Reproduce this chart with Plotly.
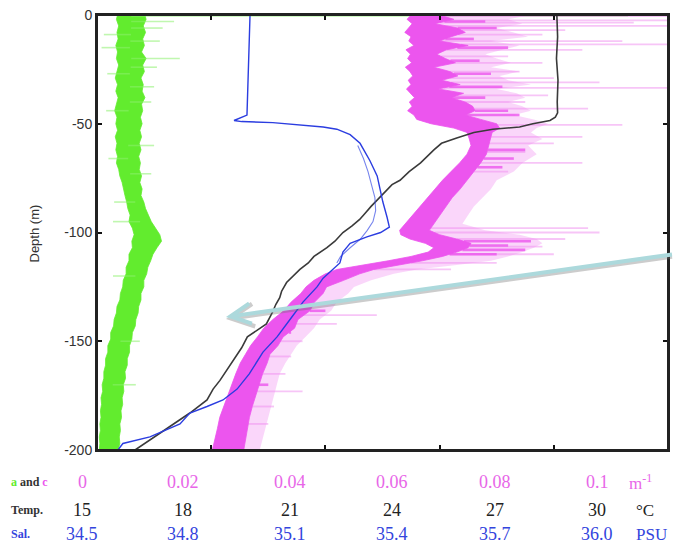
import numpy as np
import plotly.graph_objects as go

# ---------------- data ----------------
# absorption a (green) : noisy band, left / right envelopes (m^-1)
a_depth = [0, -2, -5, -8, -11, -14, -17, -20, -23, -26,
           -29, -32, -35, -38, -41, -44, -47, -50, -53, -56,
           -59, -62, -65, -68, -71, -74, -77, -80, -83, -86,
           -89, -92, -95, -98, -101, -104, -107, -110, -113, -116,
           -119, -122, -125, -128, -131, -134, -137, -140, -143, -146,
           -149, -152, -155, -158, -161, -164, -167, -170, -173, -176,
           -179, -182, -185, -188, -191, -194, -197, -200]
a_left = [0.0036, 0.0034, 0.0038, 0.0035, 0.0037, 0.0033, 0.0036, 0.0034, 0.0038, 0.0035,
          0.0032, 0.0036, 0.0033, 0.0037, 0.0034, 0.0031, 0.0035, 0.0033, 0.0036, 0.0032,
          0.0035, 0.0033, 0.0036, 0.0034, 0.0038, 0.0040, 0.0044, 0.0046, 0.0049, 0.0052,
          0.0054, 0.0058, 0.0056, 0.0062, 0.0065, 0.0061, 0.0062, 0.0056, 0.0056, 0.0051,
          0.0051, 0.0046, 0.0045, 0.0041, 0.0040, 0.0035, 0.0034, 0.0030, 0.0029, 0.0024,
          0.0024, 0.0019, 0.0019, 0.0015, 0.0015, 0.0012, 0.0012, 0.0009, 0.0010, 0.0007,
          0.0008, 0.0006, 0.0007, 0.0005, 0.0006, 0.0004, 0.0005, 0.0004]
a_right = [0.0084, 0.0086, 0.0081, 0.0085, 0.0080, 0.0083, 0.0078, 0.0086, 0.0080, 0.0083,
           0.0077, 0.0081, 0.0079, 0.0084, 0.0078, 0.0080, 0.0076, 0.0079, 0.0075, 0.0078,
           0.0074, 0.0077, 0.0073, 0.0076, 0.0074, 0.0078, 0.0075, 0.0079, 0.0077, 0.0082,
           0.0085, 0.0090, 0.0095, 0.0102, 0.0110, 0.0113, 0.0105, 0.0098, 0.0094, 0.0089,
           0.0087, 0.0082, 0.0082, 0.0077, 0.0077, 0.0073, 0.0072, 0.0068, 0.0067, 0.0062,
           0.0061, 0.0057, 0.0057, 0.0053, 0.0053, 0.0049, 0.0050, 0.0046, 0.0047, 0.0044,
           0.0045, 0.0042, 0.0043, 0.0040, 0.0041, 0.0039, 0.0040, 0.0037]
a_spike_depth = [-0.4, -3, -6, -9, -12, -15, -20, -24, -27, -33, -40, -44, -60, -66, -73, -86, -95, -120, -150, -170]
a_spike_val = [0.093, 0.0135, 0.0115, 0.0012, 0.0110, 0.0008, 0.0145, 0.0105, 0.0018, 0.0100,
               0.0095, 0.0016, 0.0100, 0.0020, 0.0095, 0.0030, 0.0028, 0.0028, 0.0075, 0.0068]

# attenuation c (magenta) : dense band, light fringe, clumps and spikes (m^-1)
c_depth = [0, -2, -4, -6, -8, -10, -12, -14, -16, -18,
           -20, -22, -24, -26, -28, -30, -32, -34, -36, -38,
           -40, -42, -44, -46, -48, -50, -52, -54, -57, -60,
           -64, -68, -72, -76, -80, -84, -88, -92, -96, -99,
           -101, -103, -105, -107, -109, -111, -113, -115, -117, -119,
           -122, -125, -128, -132, -136, -140, -144, -148, -152, -156,
           -160, -165, -170, -175, -180, -185, -190, -195, -200]
c_left = [0.0550, 0.0543, 0.0552, 0.0545, 0.0539, 0.0550, 0.0546, 0.0555, 0.0541, 0.0549,
          0.0544, 0.0551, 0.0540, 0.0548, 0.0553, 0.0545, 0.0550, 0.0542, 0.0549, 0.0556,
          0.0547, 0.0552, 0.0544, 0.0555, 0.0560, 0.0585, 0.0625, 0.0648, 0.0652, 0.0655,
          0.0648, 0.0635, 0.0620, 0.0605, 0.0592, 0.0579, 0.0566, 0.0552, 0.0540, 0.0530,
          0.0532, 0.0548, 0.0575, 0.0590, 0.0580, 0.0550, 0.0510, 0.0462, 0.0420, 0.0400,
          0.0380, 0.0366, 0.0357, 0.0340, 0.0327, 0.0308, 0.0292, 0.0281, 0.0269, 0.0260,
          0.0251, 0.0243, 0.0236, 0.0230, 0.0222, 0.0215, 0.0211, 0.0206, 0.0202]
c_right = [0.0600, 0.0625, 0.0592, 0.0632, 0.0645, 0.0620, 0.0600, 0.0650, 0.0612, 0.0595,
           0.0610, 0.0628, 0.0590, 0.0618, 0.0632, 0.0604, 0.0636, 0.0598, 0.0642, 0.0620,
           0.0645, 0.0658, 0.0662, 0.0645, 0.0672, 0.0700, 0.0705, 0.0692, 0.0688, 0.0686,
           0.0682, 0.0672, 0.0660, 0.0648, 0.0636, 0.0622, 0.0612, 0.0600, 0.0590, 0.0582,
           0.0600, 0.0630, 0.0655, 0.0650, 0.0630, 0.0605, 0.0570, 0.0530, 0.0485, 0.0460,
           0.0432, 0.0402, 0.0396, 0.0381, 0.0373, 0.0352, 0.0346, 0.0326, 0.0317, 0.0303,
           0.0298, 0.0290, 0.0283, 0.0278, 0.0272, 0.0267, 0.0264, 0.0260, 0.0257]
c_light = [0.0760, 0.0720, 0.0745, 0.0700, 0.0730, 0.0755, 0.0690, 0.0740, 0.0710, 0.0680,
           0.0700, 0.0725, 0.0690, 0.0740, 0.0705, 0.0720, 0.0760, 0.0700, 0.0735, 0.0750,
           0.0720, 0.0745, 0.0760, 0.0730, 0.0765, 0.0790, 0.0770, 0.0760, 0.0780, 0.0755,
           0.0770, 0.0745, 0.0730, 0.0700, 0.0690, 0.0675, 0.0660, 0.0650, 0.0640, 0.0680,
           0.0740, 0.0770, 0.0780, 0.0765, 0.0745, 0.0720, 0.0690, 0.0630, 0.0560, 0.0520,
           0.0480, 0.0450, 0.0440, 0.0420, 0.0410, 0.0390, 0.0380, 0.0365, 0.0350, 0.0340,
           0.0330, 0.0320, 0.0315, 0.0310, 0.0305, 0.0300, 0.0295, 0.0290, 0.0285]
c_clump_depth = [-3, -6, -11, -15, -21, -27, -33, -38, -44, -46,
                 -62, -66, -70, -104, -106, -108, -110, -136, -146, -170]
c_clump_val = [0.068, 0.070, 0.066, 0.072, 0.067, 0.069, 0.071, 0.068, 0.072, 0.074,
               0.075, 0.073, 0.071, 0.076, 0.072, 0.075, 0.070, 0.040, 0.034, 0.030]
c_spike_depth = [-0.5, -2.5, -3.5, -5, -7, -9, -12, -13.5, -16, -19,
                 -22, -26, -29, -31, -33.5, -37, -40, -43, -50.5, -56,
                 -59, -63, -68, -72, -98, -100, -103, -106.5, -110, -114,
                 -117, -138, -142, -150, -157, -165, -173, -180, -188]
c_spike_val = [0.100, 0.100, 0.094, 0.100, 0.082, 0.078, 0.092, 0.100, 0.085, 0.072,
               0.078, 0.074, 0.080, 0.088, 0.100, 0.079, 0.075, 0.086, 0.092, 0.085,
               0.080, 0.075, 0.085, 0.072, 0.086, 0.088, 0.082, 0.078, 0.080, 0.070,
               0.062, 0.049, 0.042, 0.036, 0.034, 0.033, 0.036, 0.031, 0.030]

# temperature (deg C)
temp_depth = [0, -10, -20, -30, -40, -45, -47, -48.5, -50, -51.5,
              -52.5, -54, -56.5, -59, -62, -65, -68, -72, -76, -78,
              -81, -84, -88, -91, -94, -97, -100, -104, -107, -111,
              -114, -117, -120, -123, -127, -130, -133, -137, -142, -145,
              -148, -153, -159, -163, -168, -172, -177, -183, -187, -190,
              -195, -200]
temp_val = [27.08, 27.10, 27.07, 27.11, 27.09, 27.10, 27.04, 26.90, 26.45, 26.10,
            25.40, 24.90, 24.45, 24.05, 23.85, 23.68, 23.50, 23.20, 22.96, 22.75,
            22.58, 22.43, 22.20, 22.05, 21.90, 21.70, 21.46, 21.25, 21.04, 20.70,
            20.55, 20.33, 20.15, 19.98, 19.85, 19.80, 19.70, 19.60, 19.45, 19.20,
            18.95, 18.80, 18.57, 18.40, 18.23, 18.05, 17.89, 17.44, 17.10, 16.84,
            16.40, 16.00]

# salinity (PSU), downcast and a short second branch
sal_depth = [0, -10, -20, -30, -40, -46, -48.5, -49, -49.5, -50.2,
             -50.8, -51.5, -52.5, -55, -59, -67, -74, -80, -86, -93,
             -97.5, -100, -102, -105, -109, -114, -118, -121, -125, -130,
             -132, -140, -148, -155, -165, -172, -177, -180, -183, -188,
             -194, -197, -200]
sal_val = [34.902, 34.900, 34.899, 34.897, 34.895, 34.894, 34.860, 34.880, 34.962, 35.007,
           35.052, 35.094, 35.130, 35.165, 35.191, 35.217, 35.236, 35.243, 35.251, 35.262,
           35.268, 35.245, 35.209, 35.165, 35.146, 35.138, 35.112, 35.094, 35.078, 35.050,
           35.041, 35.007, 34.973, 34.936, 34.900, 34.868, 34.831, 34.789, 34.744, 34.718,
           34.639, 34.568, 34.555]
sal2_depth = [-60, -66, -72, -78, -84, -90, -95, -99, -103, -107, -111, -114]
sal2_val = [35.185, 35.200, 35.212, 35.222, 35.230, 35.232, 35.225, 35.210, 35.192, 35.165, 35.140, 35.130]

# bottom label table
abs_ticks = ["0", "0.02", "0.04", "0.06", "0.08", "0.1"]
temp_ticks = ["15", "18", "21", "24", "27", "30"]
sal_ticks = ["34.5", "34.8", "35.1", "35.4", "35.7", "36.0"]
y_ticks = [0, -50, -100, -150, -200]

# ---------------- layout constants ----------------
W, H = 675, 547
L, R, T, B = 97, 7, 15, 97
PW, PH = W - L - R, H - T - B
col_px = [82, 183, 290, 392, 495, 597]
row_py = [482, 510, 534]

def px2paper(px):
    return (px - L) / PW

def py2paper(py):
    return (H - B - py) / PH

GREEN = "#62ec2e"
GREEN_L = "rgba(140,240,110,0.55)"
MAG = "#ec55ee"
MAG_L = "rgba(246,180,246,0.55)"
MAG_S = "rgba(240,140,240,0.5)"
MAG_C = "rgba(236,85,238,0.8)"
BLUE = "#2b3de0"
BLACK = "#3a3a3a"

fig = go.Figure()

# green band + spikes
fig.add_trace(go.Scatter(x=a_left + a_right[::-1], y=a_depth + a_depth[::-1],
                         fill="toself", fillcolor=GREEN, mode="lines",
                         line=dict(width=0.8, color=GREEN), hoverinfo="skip"))
ad = np.array(a_depth)[::-1]
acen = (np.array(a_left) + np.array(a_right))[::-1] / 2
sx, sy = [], []
for d, v in zip(a_spike_depth, a_spike_val):
    sx += [float(np.interp(d, ad, acen)), v, None]
    sy += [d, d, None]
fig.add_trace(go.Scatter(x=sx, y=sy, mode="lines", line=dict(color=GREEN_L, width=1.6),
                         hoverinfo="skip"))

# magenta light fringe, spikes, dense band, clumps
fig.add_trace(go.Scatter(x=c_left + c_light[::-1], y=c_depth + c_depth[::-1],
                         fill="toself", fillcolor=MAG_L, mode="lines",
                         line=dict(width=0), hoverinfo="skip"))
cd = np.array(c_depth)[::-1]
cr = np.array(c_right)[::-1]
sx, sy = [], []
for d, v in zip(c_spike_depth, c_spike_val):
    sx += [float(np.interp(d, cd, cr)), v, None]
    sy += [d, d, None]
fig.add_trace(go.Scatter(x=sx, y=sy, mode="lines", line=dict(color=MAG_S, width=1.8),
                         hoverinfo="skip"))
fig.add_trace(go.Scatter(x=c_left + c_right[::-1], y=c_depth + c_depth[::-1],
                         fill="toself", fillcolor=MAG, mode="lines",
                         line=dict(width=0.8, color=MAG), hoverinfo="skip"))
sx, sy = [], []
for d, v in zip(c_clump_depth, c_clump_val):
    sx += [float(np.interp(d, cd, cr)), v, None]
    sy += [d, d, None]
fig.add_trace(go.Scatter(x=sx, y=sy, mode="lines", line=dict(color=MAG_C, width=2.6),
                         hoverinfo="skip"))

# salinity and temperature
fig.add_trace(go.Scatter(x=sal2_val, y=sal2_depth, xaxis="x3", mode="lines",
                         line=dict(color="rgba(60,80,230,0.7)", width=1.1), hoverinfo="skip"))
fig.add_trace(go.Scatter(x=sal_val, y=sal_depth, xaxis="x3", mode="lines",
                         line=dict(color=BLUE, width=1.4), hoverinfo="skip"))
fig.add_trace(go.Scatter(x=temp_val, y=temp_depth, xaxis="x2", mode="lines",
                         line=dict(color=BLACK, width=1.6), hoverinfo="skip"))

axis_common = dict(showline=True, linecolor="#222", linewidth=2, mirror="ticks",
                   ticks="inside", ticklen=5, tickwidth=2, tickcolor="#111",
                   showgrid=False, zeroline=False, layer="above traces")
fig.update_layout(
    width=W, height=H, margin=dict(l=L, r=R, t=T, b=B, autoexpand=False),
    paper_bgcolor="white", plot_bgcolor="white", showlegend=False,
    xaxis=dict(range=[0, 0.1], tickvals=[0, 0.02, 0.04, 0.06, 0.08, 0.1],
               showticklabels=False, **axis_common),
    xaxis2=dict(range=[15, 30], overlaying="x", anchor="y", visible=False),
    xaxis3=dict(range=[34.5, 36.0], overlaying="x", anchor="y", visible=False),
    yaxis=dict(range=[-200, 0], tickvals=y_ticks, ticktext=[str(v) for v in y_ticks],
               tickfont=dict(family="Liberation Sans", size=14, color="#333"),
               **axis_common),
    shapes=[dict(type="rect", xref="paper", yref="paper", x0=0, x1=1, y0=0, y1=1,
                 line=dict(color="#222", width=2), layer="above")],
)

ann = []
# y title
ann.append(dict(x=px2paper(24), y=py2paper(234), xref="paper", yref="paper",
                text="Depth (m)", textangle=-90, showarrow=False,
                font=dict(family="Liberation Sans", size=13, color="#333")))
serif = "Liberation Serif"
rows = [(abs_ticks, "#e866e8", "m<sup>-1</sup>", 640),
        (temp_ticks, "#222", "°C", 645),
        (sal_ticks, "#3344dd", "PSU", 651)]
for (labels, color, unit, upx), py in zip(rows, row_py):
    for lab, px in zip(labels, col_px):
        ann.append(dict(x=px2paper(px), y=py2paper(py), xref="paper", yref="paper",
                        text=lab, showarrow=False, xanchor="center", yanchor="middle",
                        font=dict(family=serif, size=18, color=color)))
    ann.append(dict(x=px2paper(upx), y=py2paper(py), xref="paper", yref="paper",
                    text=unit, showarrow=False, xanchor="center", yanchor="middle",
                    font=dict(family=serif, size=17, color=color)))
heads = ["<span style='color:#62ec2e'>a</span> and <span style='color:#ec55ee'>c</span>",
         "Temp.", "<span style='color:#3344dd'>Sal.</span>"]
for h, py in zip(heads, row_py):
    ann.append(dict(x=px2paper(9), y=py2paper(py), xref="paper", yref="paper",
                    text="<b>" + h + "</b>", showarrow=False, xanchor="left", yanchor="middle",
                    font=dict(family=serif, size=12, color="#333")))
# arrow (shadow + arrow)
tip_x, tip_y = px2paper(226), py2paper(317)
ann.append(dict(x=tip_x, y=py2paper(319), xref="paper", yref="paper", ax=449, ay=-63,
                showarrow=True, arrowhead=5, arrowsize=1, arrowwidth=4.5,
                arrowcolor="rgba(110,110,110,0.35)", text=" "))
ann.append(dict(x=tip_x, y=tip_y, xref="paper", yref="paper", ax=449, ay=-63,
                showarrow=True, arrowhead=5, arrowsize=1, arrowwidth=4,
                arrowcolor="#acd9dc", text=" "))
fig.update_layout(annotations=ann)

fig.write_html("out.html", config={"displayModeBar": False},
               post_script="document.body.style.margin='0px';")
